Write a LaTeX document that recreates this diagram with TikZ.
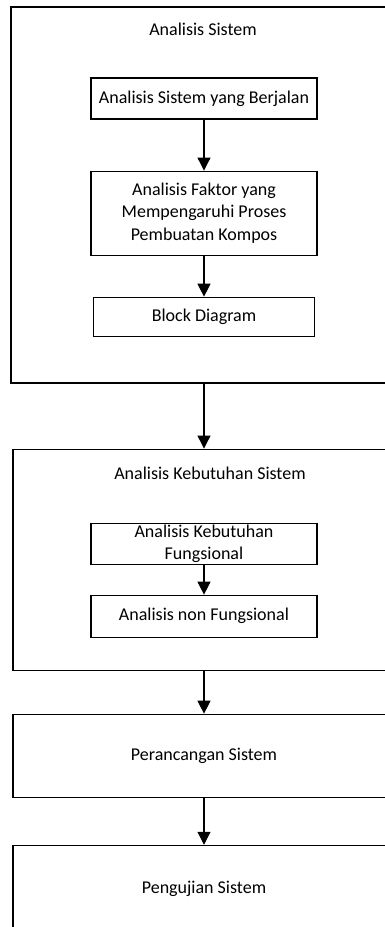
\documentclass[tikz,border=0pt]{standalone}
\usepackage{fontspec}
\setmainfont{Carlito}
\usepackage{tikz}
\usetikzlibrary{positioning, arrows.meta}

\begin{document}
\begin{tikzpicture}[node distance=1.5cm, font=\fontsize{18pt}{22.5pt}\selectfont]
\tikzstyle{stage} = [rectangle, minimum width=382pt, text centered, draw=black, line width=1.1pt, inner sep=0pt]
\tikzstyle{process} = [rectangle, minimum width=226pt, minimum height=41pt, text centered, align=center, draw=black, line width=1.1pt, inner sep=0pt]
\tikzstyle{caption} = [inner sep=0pt]
\tikzstyle{arrow} = [line width=1.1pt,-{Triangle[width=13pt,length=13pt]}]

\useasboundingbox (0,0) rectangle (385pt,-927pt);
\clip (0,0) rectangle (385pt,-927pt);

\node (sys) [stage, minimum width=386pt, minimum height=376pt] at (204pt,-195pt) {};
\node (sysT) [caption] at ([xshift=-1pt,yshift=-23pt]sys.north) {Analisis Sistem};
\node (run) [process, below=71pt of sys.north] {Analisis Sistem yang Berjalan};
\node (factor) [process, minimum height=84pt, below=51pt of run] {Analisis Faktor yang\\Mempengaruhi Proses\\Pembuatan Kompos};
\node (block) [process, minimum width=221pt, minimum height=39pt, below=41pt of factor] {Block Diagram};

\node (need) [stage, minimum height=221pt, below=65pt of sys] {};
\node (needT) [caption] at ([xshift=6pt,yshift=-25pt]need.north) {Analisis Kebutuhan Sistem};
\node (func) [process, below=74pt of need.north] {Analisis Kebutuhan\\Fungsional};
\node (nonfunc) [process, minimum height=42pt, below=30pt of func] {Analisis non Fungsional};

\node (design) [stage, minimum height=83pt, below=43pt of need] {Perancangan Sistem};
\node (test) [stage, minimum height=87pt, below=47pt of design] {Pengujian Sistem};

\draw [arrow] (run) -- (factor);
\draw [arrow] (factor) -- (block);
\draw [arrow] (sys) -- (need);
\draw [arrow] (func) -- (nonfunc);
\draw [arrow] (need) -- (design);
\draw [arrow] (design) -- (test);
\end{tikzpicture}
\end{document}
